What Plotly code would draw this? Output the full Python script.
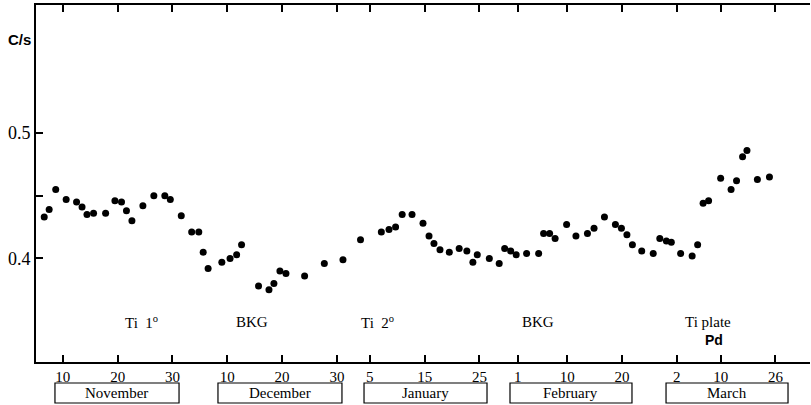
import plotly.graph_objects as go

# day index counted from 1 November (Nov 1 = 1, Dec 1 = 31, Jan 1 = 62, Feb 1 = 93, Mar 1 = 121)
days = [6.6, 7.5, 8.7, 10.6, 12.5, 13.5, 14.4, 15.6, 17.8, 19.5, 20.7, 21.6, 22.6, 24.6, 26.6,
        28.6, 29.6, 31.6, 33.5, 34.8, 35.6, 36.5, 39.0, 40.5, 41.7, 42.6, 45.7, 47.6, 48.5, 49.6,
        50.7, 54.1, 57.7, 61.1, 64.3, 68.1, 69.5, 70.7, 71.9, 73.7, 75.7, 76.8, 77.7, 78.8, 80.5,
        82.3, 83.7, 84.8, 85.6, 87.8, 89.6, 90.6, 91.7, 92.7, 94.6, 96.8, 97.7, 98.8, 99.8, 101.9,
        103.6, 105.7, 106.9, 108.8, 110.8, 111.9, 112.9, 113.9, 115.6, 117.7, 118.9, 120.1, 121.0,
        122.7, 124.8, 125.8, 126.8, 127.8, 130.0, 131.9, 132.9, 134.0, 134.8, 136.7, 138.9]
counts = [0.433, 0.439, 0.455, 0.447, 0.445, 0.441, 0.435, 0.436, 0.436, 0.446, 0.445, 0.438,
          0.430, 0.442, 0.450, 0.450, 0.447, 0.434, 0.421, 0.421, 0.405, 0.392, 0.397, 0.400,
          0.403, 0.411, 0.378, 0.375, 0.380, 0.390, 0.388, 0.386, 0.396, 0.399, 0.415, 0.421,
          0.423, 0.425, 0.435, 0.435, 0.428, 0.418, 0.412, 0.407, 0.405, 0.408, 0.406, 0.397,
          0.403, 0.400, 0.396, 0.408, 0.406, 0.403, 0.404, 0.404, 0.420, 0.420, 0.416, 0.427,
          0.418, 0.420, 0.424, 0.433, 0.427, 0.424, 0.419, 0.411, 0.406, 0.404, 0.416, 0.414,
          0.413, 0.404, 0.402, 0.411, 0.444, 0.446, 0.464, 0.455, 0.462, 0.481, 0.486, 0.463, 0.465]

tick_days = [10, 20, 30, 40, 50, 60, 66, 76, 86, 93, 102, 112, 122, 130, 140]
tick_labels = ["10", "20", "30", "10", "20", "30", "5", "15", "25", "1", "10", "20", "2", "10", "26"]
y_ticks = [0.4, 0.45, 0.5]
y_tick_labels = ["0.4", " ", "0.5"]

months = ["November", "December", "January", "February", "March"]
month_box_left = [0.0245, 0.2351, 0.4238, 0.6124, 0.8140]
month_box_right = [0.1848, 0.3953, 0.5827, 0.7700, 0.9716]

phase_labels = ["Ti  1<sup>o</sup>", "BKG", "Ti  2<sup>o</sup>", "BKG", "Ti plate", "<b>Pd</b>"]
phase_x = [0.1357, 0.279, 0.4406, 0.6486, 0.8682, 0.876]
phase_y = [0.112, 0.112, 0.112, 0.112, 0.112, 0.062]

serif = "Liberation Serif"
sans = "Liberation Sans"

fig = go.Figure()
fig.add_trace(go.Scatter(x=days, y=counts, mode="markers",
                         marker=dict(color="black", size=7), showlegend=False))

fig.update_layout(
    width=811, height=405,
    margin=dict(l=36, r=1, t=5, b=43),
    paper_bgcolor="white", plot_bgcolor="white",
    xaxis=dict(range=[5.1, 146.3], tickvals=tick_days, ticktext=tick_labels,
               ticks="inside", ticklen=7, tickwidth=2, tickcolor="black",
               showline=True, linewidth=2, linecolor="black", mirror="ticks",
               showgrid=False, zeroline=False,
               tickfont=dict(family=serif, size=15, color="black")),
    yaxis=dict(range=[0.3175, 0.602], tickvals=y_ticks, ticktext=y_tick_labels,
               ticks="inside", ticklen=7, tickwidth=1.5, tickcolor="black",
               showline=True, linewidth=2, linecolor="black",
               showgrid=False, zeroline=False,
               tickfont=dict(family=serif, size=18, color="black")),
    yaxis2=dict(matches="y", overlaying="y", side="right", tickvals=[0.4, 0.5],
                ticks="inside", ticklen=5, tickwidth=1.5, tickcolor="black",
                showticklabels=False, showline=False, showgrid=False, zeroline=False),
)

annotations = [dict(text="<b>C/s</b>", x=-0.021, y=0.902, xref="paper", yref="paper",
                    showarrow=False, xanchor="center", yanchor="middle",
                    font=dict(family=sans, size=15, color="black"))]
for t, px, py in zip(phase_labels, phase_x, phase_y):
    fam = sans if "Pd" in t else serif
    annotations.append(dict(text=t, x=px, y=py, xref="paper", yref="paper", showarrow=False,
                            xanchor="center", yanchor="middle",
                            font=dict(family=fam, size=15 if fam == serif else 14, color="black")))

shapes = []
for name, x0, x1 in zip(months, month_box_left, month_box_right):
    shapes.append(dict(type="rect", xref="paper", yref="paper", x0=x0, x1=x1,
                       y0=-0.1148, y1=-0.0588, line=dict(color="black", width=1.2),
                       fillcolor="white"))
    annotations.append(dict(text=name, x=(x0 + x1) / 2, y=-0.0868, xref="paper", yref="paper",
                            showarrow=False, xanchor="center", yanchor="middle",
                            font=dict(family=serif, size=15, color="black")))

fig.update_layout(annotations=annotations, shapes=shapes)
fig.write_html("out.html", config={"displayModeBar": False},
               post_script="document.body.style.margin='0';document.body.style.overflow='hidden';")
